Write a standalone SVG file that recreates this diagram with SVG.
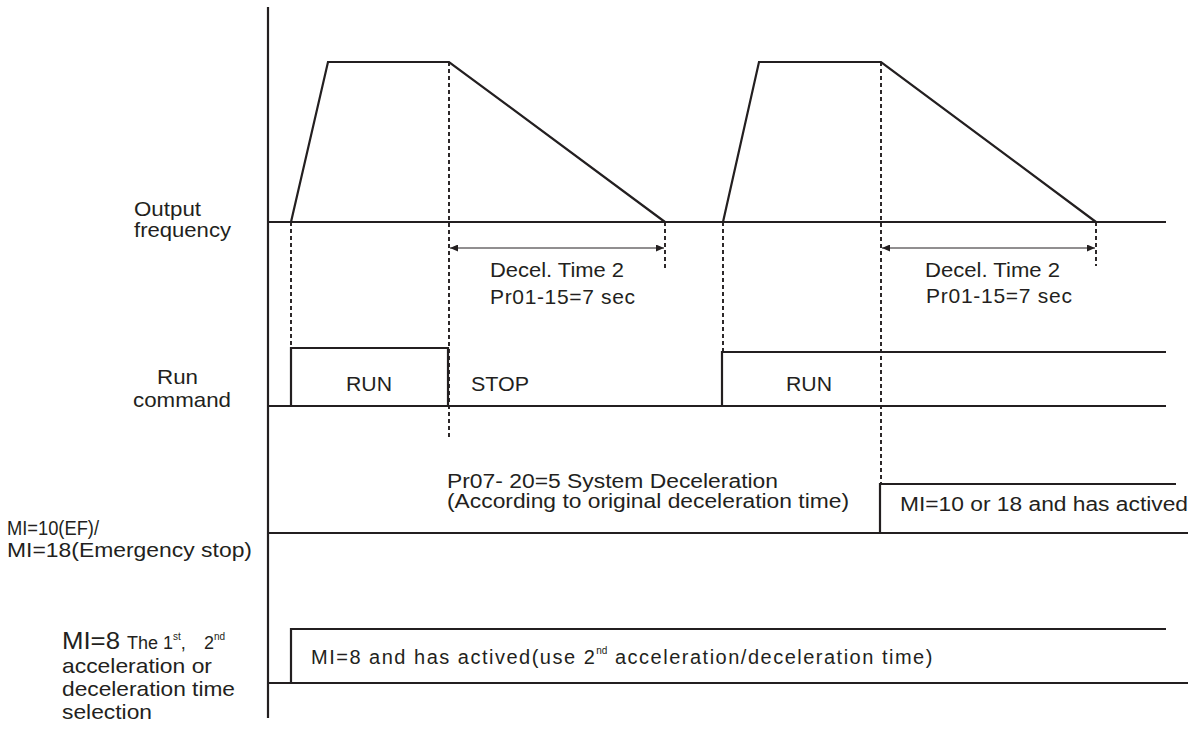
<svg xmlns="http://www.w3.org/2000/svg" width="1200" height="746" viewBox="0 0 1200 746">
<style>
  .ln{fill:none;stroke:#231f20;stroke-width:2.2;stroke-linejoin:miter}
  .ds{fill:none;stroke:#231f20;stroke-width:1.9;stroke-dasharray:4 3}
  .dim{fill:none;stroke:#231f20;stroke-width:1}
  .t{font-family:"Liberation Sans",Arial,sans-serif;font-size:21px;fill:#231f20}
  .s{font-family:"Liberation Sans",Arial,sans-serif;font-size:20px;fill:#231f20}
</style>
<defs>
  <marker id="ah" markerWidth="9" markerHeight="7" refX="8" refY="3.5" orient="auto-start-reverse" markerUnits="userSpaceOnUse">
    <path d="M0,0 L8,3.5 L0,7 z" fill="#231f20"/>
  </marker>
</defs>
<rect width="1200" height="746" fill="#ffffff"/>

<g id="axis">
  <line class="ln" x1="268" y1="7" x2="268" y2="718"/>
</g>

<g id="output-frequency">
  <line class="ln" x1="268" y1="222" x2="1166" y2="222"/>
  <polyline class="ln" points="291,222 328,62 449,62 665,222"/>
  <polyline class="ln" points="723,222 759,62 881,62 1096,222"/>
  <text class="t" x="134" y="216" textLength="67" lengthAdjust="spacingAndGlyphs">Output</text>
  <text class="t" x="134" y="237" textLength="97" lengthAdjust="spacingAndGlyphs">frequency</text>
  <text class="t" x="490" y="277" textLength="134" lengthAdjust="spacingAndGlyphs">Decel. Time 2</text>
  <text class="t" x="490" y="304" textLength="145" lengthAdjust="spacing">Pr01-15=7 sec</text>
  <text class="t" x="925" y="277" textLength="135" lengthAdjust="spacingAndGlyphs">Decel. Time 2</text>
  <text class="t" x="926" y="303" textLength="146" lengthAdjust="spacing">Pr01-15=7 sec</text>
</g>

<g id="run-command">
  <line class="ln" x1="268" y1="406" x2="1166" y2="406"/>
  <polyline class="ln" points="291,406 291,348 448,348 448,406"/>
  <polyline class="ln" points="722,406 722,352 1166,352"/>
  <text class="t" x="157" y="384" textLength="41" lengthAdjust="spacingAndGlyphs">Run</text>
  <text class="t" x="133" y="407" textLength="98" lengthAdjust="spacingAndGlyphs">command</text>
  <text class="t" x="346" y="391" textLength="46" lengthAdjust="spacingAndGlyphs">RUN</text>
  <text class="t" x="471" y="391" textLength="58" lengthAdjust="spacingAndGlyphs">STOP</text>
  <text class="t" x="786" y="391" textLength="46" lengthAdjust="spacingAndGlyphs">RUN</text>
</g>

<g id="mi10-18">
  <line class="ln" x1="268" y1="533" x2="1188" y2="533"/>
  <polyline class="ln" points="880,533 880,484 1176,484"/>
  <text class="s" x="7" y="535" textLength="92" lengthAdjust="spacingAndGlyphs">MI=10(EF)/</text>
  <text class="s" x="7" y="557" textLength="245" lengthAdjust="spacingAndGlyphs">MI=18(Emergency stop)</text>
  <text class="s" x="447" y="488" textLength="331" lengthAdjust="spacingAndGlyphs">Pr07- 20=5 System Deceleration</text>
  <text class="s" x="447" y="508" textLength="402" lengthAdjust="spacingAndGlyphs">(According to original deceleration time)</text>
  <text class="s" x="900" y="511" textLength="288" lengthAdjust="spacingAndGlyphs">MI=10  or  18 and has actived</text>
</g>

<g id="mi8">
  <line class="ln" x1="268" y1="683" x2="1188" y2="683"/>
  <polyline class="ln" points="291,683 291,629 1166,629"/>
  <text class="t" x="62" y="649" style="font-size:23px" textLength="58" lengthAdjust="spacingAndGlyphs">MI=8</text>
  <text class="s" x="127" y="649" style="font-size:18px">The 1<tspan style="font-size:10px" dy="-9">st</tspan><tspan dy="9">,</tspan><tspan x="204">2</tspan><tspan style="font-size:10px" dy="-9">nd</tspan></text>
  <text class="t" x="62" y="673" textLength="150" lengthAdjust="spacingAndGlyphs">acceleration or</text>
  <text class="t" x="62" y="696" textLength="173" lengthAdjust="spacingAndGlyphs">deceleration time</text>
  <text class="t" x="62" y="719" textLength="90" lengthAdjust="spacingAndGlyphs">selection</text>
  <text class="s" x="311" y="664" style="letter-spacing:1.5px">MI=8 and has actived(use 2<tspan style="font-size:10px;letter-spacing:0" dy="-10">nd</tspan><tspan x="615" dy="10">acceleration/deceleration time)</tspan></text>
</g>

<g id="connectors">
  <line class="ds" x1="291" y1="222" x2="291" y2="348"/>
  <line class="ds" x1="449" y1="62" x2="449" y2="437"/>
  <line class="ds" x1="665" y1="222" x2="665" y2="268"/>
  <line class="ds" x1="723" y1="222" x2="723" y2="352"/>
  <line class="ds" x1="881" y1="62" x2="881" y2="484"/>
  <line class="ds" x1="1096" y1="222" x2="1096" y2="266"/>
  <line class="dim" x1="450" y1="248" x2="664" y2="248" marker-start="url(#ah)" marker-end="url(#ah)"/>
  <line class="dim" x1="882" y1="248" x2="1095" y2="248" marker-start="url(#ah)" marker-end="url(#ah)"/>
</g>
</svg>
